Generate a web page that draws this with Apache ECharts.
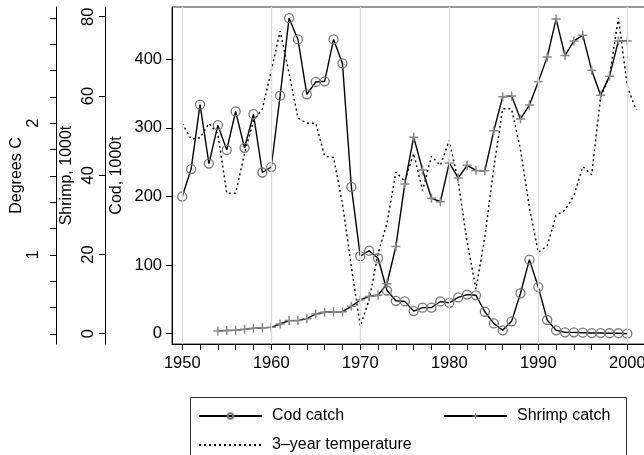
<!DOCTYPE html>
<html>
<head>
<meta charset="utf-8">
<script src="https://cdn.jsdelivr.net/npm/echarts@6/dist/echarts.min.js"></script>
<style>
html,body{margin:0;padding:0;background:#fff;}
#chart{width:644px;height:455px;}
</style>
</head>
<body>
<div id="chart"></div>
<script>
const FONT = '"Liberation Sans", Arial, sans-serif';

// cod catch, 1000t
const codYears = [1950,1951,1952,1953,1954,1955,1956,1957,1958,1959,1960,1961,1962,1963,1964,1965,1966,1967,1968,1969,
  1970,1971,1972,1973,1974,1975,1976,1977,1978,1979,1980,1981,1982,1983,1984,1985,1986,1987,1988,1989,
  1990,1991,1992,1993,1994,1995,1996,1997,1998,1999,2000];
const codCatch = [200,240,334,248,304,268,324,271,320,235,243,347,460,429,349,367,368,429,394,214,
  113,121,110,63,48,47,33,38,38,47,45,53,57,56,32,15,5,18,59,108,
  68,20,5,2,2,1.5,1,1,0.7,0.7,0];

// shrimp catch, 1000t
const shrimpYears = [1954,1955,1956,1957,1958,1959,1960,1961,1962,1963,1964,1965,1966,1967,1968,1969,
  1970,1971,1972,1973,1974,1975,1976,1977,1978,1979,1980,1981,1982,1983,1984,1985,1986,1987,1988,1989,
  1990,1991,1992,1993,1994,1995,1996,1997,1998,1999,2000];
const shrimpCatch = [0.7,0.8,0.85,1.1,1.35,1.5,1.6,2.45,3.3,3.3,3.8,5.0,5.4,5.55,5.55,6.9,
  8.5,9.4,9.7,12.6,22,37.8,49.6,41.3,34.2,33.3,43.1,39.3,42.5,41.2,41.1,51.2,59.8,60,54.2,57.7,
  63.6,69.8,79.4,70.2,73.9,75.3,66.5,60.2,65,73.9,73.9];

// 3-year temperature, degrees C
const tempYears = [1950,1951,1952,1953,1954,1955,1956,1957,1958,1959,1960,1961,1962,1963,1964,1965,1966,1967,1968,1969,
  1970,1971,1972,1973,1974,1975,1976,1977,1978,1979,1980,1981,1982,1983,1984,1985,1986,1987,1988,1989,
  1990,1991,1992,1993,1994,1995,1996,1997,1998,1999,2000,2001];
const tempValues = [2.0,1.88,1.89,2.0,1.92,1.47,1.47,1.77,2.02,2.11,2.40,2.70,2.38,2.04,2.0,2.0,1.75,1.74,1.39,0.91,
  0.46,0.66,1.01,1.24,1.63,1.56,1.77,1.49,1.75,1.68,1.87,1.56,1.10,0.74,1.14,1.66,2.11,2.11,1.80,1.36,
  1.02,1.07,1.30,1.34,1.45,1.67,1.61,2.20,2.36,2.80,2.28,2.10];

// axis ticks and labels
const yearTicks = [1950,1952,1954,1956,1958,1960,1962,1964,1966,1968,1970,1972,1974,1976,1978,1980,1982,1984,1986,1988,1990,1992,1994,1996,1998,2000];
const yearLabels = [1950,1960,1970,1980,1990,2000];
const codTicks = [0,100,200,300,400];
const shrimpTicks = [0,20,40,60,80];
const degreeTicks = [0.4,0.6,0.8,1.0,1.2,1.4,1.6,1.8,2.0,2.2,2.4,2.6,2.8];
const degreeLabels = [1,2];

function pairs(xs, ys){
  return xs.map((x,i)=>[x, ys[i]]);
}

const plusPath = 'path://M5,0h2v5h5v2h-5v5h-2v-5h-5v-2h5z';
const txt = {fontFamily: FONT, fontSize: 16, color: '#000'};
const tickTxt = {fontFamily: FONT, fontSize: 16.5, color: '#000'};

function leftAxis(cfg){
  return {
    type: 'value',
    position: 'left',
    offset: cfg.offset,
    min: cfg.min,
    max: cfg.max,
    name: cfg.name,
    nameLocation: 'middle',
    nameGap: cfg.nameGap,
    nameMoveOverlap: false,
    nameTextStyle: txt,
    axisLine: {show: true, onZero: false, lineStyle: {color: '#000', width: 1}},
    axisTick: {show: true, length: 6, customValues: cfg.ticks, lineStyle: {color: '#000'}},
    axisLabel: {customValues: cfg.labels, rotate: cfg.rotate, margin: cfg.margin, ...tickTxt,
      formatter: v => String(v)},
    splitLine: {show: false}
  };
}

const legendBase = {
  orient: 'horizontal',
  padding: 0,
  itemWidth: 63,
  itemHeight: 7,
  selectedMode: false,
  textStyle: {...txt, padding: [0,0,0,5]}
};

const option = {
  animation: false,
  backgroundColor: '#fff',
  textStyle: {fontFamily: FONT},
  grid: {left: 172, top: 7, right: -2, bottom: 111, outerBoundsMode: 'none', containLabel: false,
    show: true, borderColor: '#333', borderWidth: 1},
  xAxis: {
    type: 'value',
    min: 1948.85,
    max: 2002.1,
    axisLine: {show: true, onZero: false, lineStyle: {color: '#000'}},
    axisTick: {show: true, length: 6, customValues: yearTicks, lineStyle: {color: '#000'}},
    axisLabel: {customValues: yearLabels, margin: 11, ...tickTxt, formatter: v => String(v)},
    splitLine: {show: false}
  },
  yAxis: [
    leftAxis({name: 'Cod, 1000t', offset: 0, min: -15, max: 476.3, ticks: codTicks, labels: codTicks,
      rotate: 0, margin: 10, nameGap: 47}),
    leftAxis({name: 'Shrimp, 1000t', offset: 67, min: -2.6, max: 82.45, ticks: shrimpTicks, labels: shrimpTicks,
      rotate: 90, margin: 8, nameGap: 30}),
    leftAxis({name: 'Degrees C', offset: 116, min: 0.324, max: 2.883, ticks: degreeTicks, labels: degreeLabels,
      rotate: 90, margin: 14, nameGap: 31})
  ],
  legend: [
    {...legendBase, data: ['Cod catch'], left: 198, top: 408},
    {...legendBase, data: ['Shrimp catch'], left: 443, top: 408},
    {...legendBase, data: ['3–year temperature'], left: 198, top: 437}
  ],
  graphic: [{
    type: 'rect',
    shape: {x: 190.5, y: 397.5, width: 436, height: 70},
    style: {fill: 'none', stroke: '#333', lineWidth: 1},
    silent: true
  }],
  series: [
    {
      name: 'grid',
      type: 'line',
      data: [],
      z: 0,
      silent: true,
      markLine: {
        silent: true,
        symbol: 'none',
        label: {show: false},
        lineStyle: {color: '#dcdcdc', width: 1.3, type: 'solid'},
        data: yearLabels.map(v=>({xAxis: v}))
      }
    },
    {
      name: '3–year temperature',
      type: 'line',
      yAxisIndex: 2,
      data: pairs(tempYears, tempValues),
      symbol: 'none',
      lineStyle: {color: '#000', width: 1.4, type: [2,3]},
      itemStyle: {color: 'transparent', borderColor: 'transparent', borderWidth: 0},
      z: 2
    },
    {
      name: 'Cod catch',
      type: 'line',
      yAxisIndex: 0,
      data: pairs(codYears, codCatch),
      symbol: 'circle',
      symbolSize: 9,
      showAllSymbol: true,
      lineStyle: {color: '#000', width: 1.4},
      itemStyle: {color: 'transparent', borderColor: '#777', borderWidth: 1.3},
      z: 3
    },
    {
      name: 'Shrimp catch',
      type: 'line',
      yAxisIndex: 1,
      data: pairs(shrimpYears, shrimpCatch),
      symbol: plusPath,
      symbolSize: 9,
      showAllSymbol: true,
      lineStyle: {color: '#000', width: 1.4},
      itemStyle: {color: '#888'},
      z: 3
    }
  ]
};

const chart = echarts.init(document.getElementById('chart'), null, {renderer: 'canvas'});
chart.setOption(option);
</script>
</body>
</html>
